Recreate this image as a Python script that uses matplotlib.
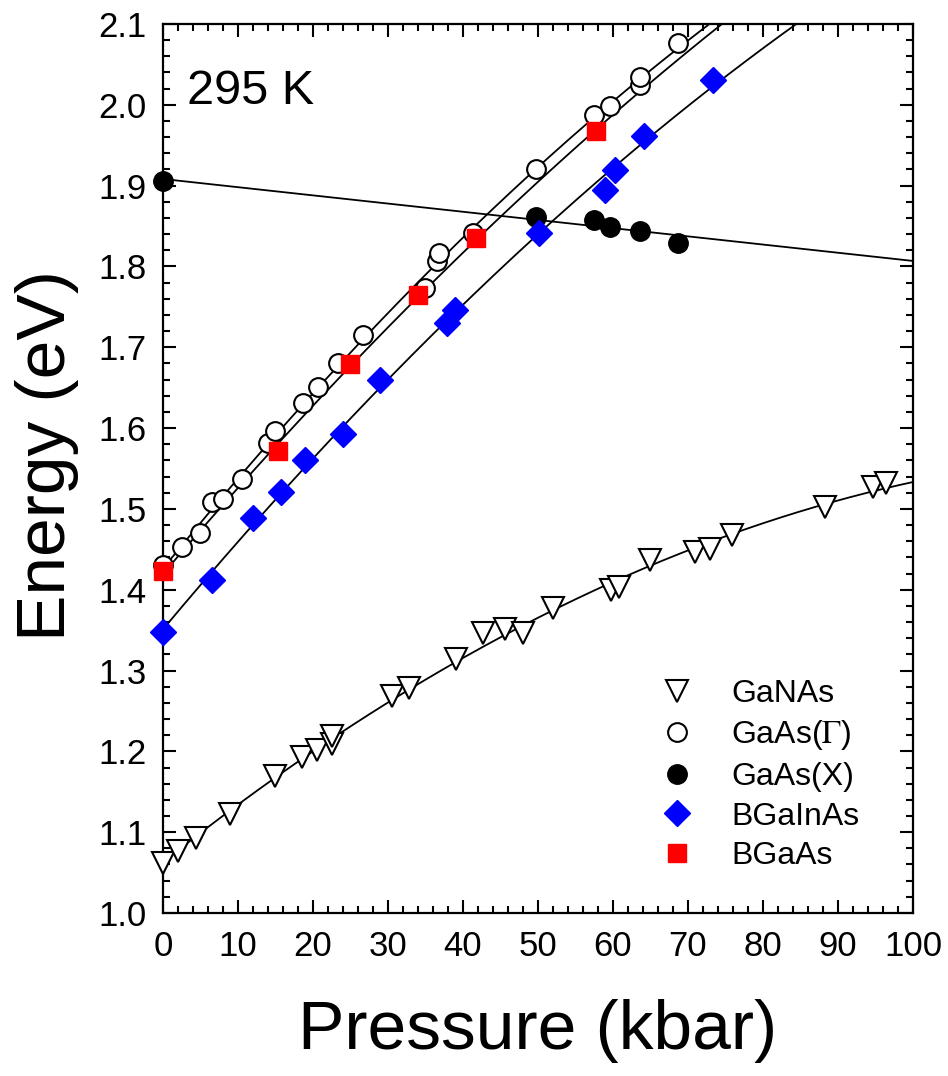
import matplotlib
matplotlib.use("Agg")
import matplotlib.pyplot as plt
import numpy as np

plt.rcParams['font.family'] = ['Liberation Sans', 'DejaVu Sans']
plt.rcParams['mathtext.fontset'] = 'stix'

# GaNAs (open down triangles)
ganas_p = [0.0, 2.0, 4.4, 8.9, 14.9, 18.5, 20.5, 22.5, 22.6, 30.6, 32.8, 39.1,
           42.7, 45.6, 48.0, 52.0, 59.8, 60.8, 64.9, 70.9, 72.9, 75.9, 88.3, 94.7, 96.4]
ganas_e = [1.062, 1.077, 1.093, 1.122, 1.169, 1.193, 1.202, 1.209, 1.219, 1.268, 1.278, 1.314,
           1.346, 1.352, 1.347, 1.377, 1.400, 1.403, 1.437, 1.447, 1.450, 1.468, 1.502, 1.527, 1.532]

# GaAs Gamma (open circles)
gamma_p = [0.0, 2.5, 4.9, 6.5, 8.0, 10.5, 14.0, 14.9, 18.7, 20.7, 23.4, 26.7,
           34.9, 36.6, 36.8, 41.4, 49.7, 57.5, 59.6, 63.6, 63.6, 68.7]
gamma_e = [1.430, 1.453, 1.470, 1.508, 1.512, 1.537, 1.582, 1.597, 1.631, 1.651, 1.681, 1.715,
           1.773, 1.807, 1.817, 1.842, 1.921, 1.987, 1.998, 2.024, 2.034, 2.077]

# GaAs X (filled circles)
x_p = [0.0, 49.7, 57.5, 59.6, 63.6, 68.7]
x_e = [1.906, 1.861, 1.857, 1.849, 1.844, 1.829]

# BGaInAs (blue diamonds)
bgainas_p = [0.0, 6.5, 12.0, 15.7, 18.9, 24.0, 29.0, 37.9, 38.9, 50.1, 58.9, 60.3, 64.1, 73.3]
bgainas_e = [1.348, 1.412, 1.489, 1.521, 1.561, 1.593, 1.660, 1.730, 1.746, 1.841, 1.895,
             1.919, 1.961, 2.031]

# BGaAs (red squares)
bgaas_p = [0.0, 15.4, 24.9, 34.0, 41.8, 57.8]
bgaas_e = [1.423, 1.572, 1.679, 1.765, 1.835, 1.968]

fig = plt.figure(figsize=(9.48, 10.76), dpi=100)
ax = fig.add_axes([0.1719, 0.1515, 0.7912, 0.8262])

pp = np.linspace(0, 100, 400)
lw = 1.3
fits = [(ganas_p, ganas_e, 2), (gamma_p, gamma_e, 2), (x_p, x_e, 1),
        (bgainas_p, bgainas_e, 2), (bgaas_p, bgaas_e, 2)]
for p, e, deg in fits:
    c = np.polyfit(p, e, deg)
    ax.plot(pp, np.polyval(c, pp), color='black', lw=lw, zorder=2)

ax.plot(ganas_p, ganas_e, 'v', ms=16, mfc='white', mec='black', mew=1.5,
        ls='none', label='GaNAs', zorder=3, clip_on=False)
ax.plot(gamma_p, gamma_e, 'o', ms=13.5, mfc='white', mec='black', mew=1.5,
        ls='none', label=r'GaAs($\Gamma$)', zorder=3, clip_on=False)
ax.plot(x_p, x_e, 'o', ms=14, mfc='black', mec='black',
        ls='none', label='GaAs(X)', zorder=3, clip_on=False)
ax.plot(bgainas_p, bgainas_e, 'D', ms=13, mfc='blue', mec='blue',
        ls='none', label='BGaInAs', zorder=4, clip_on=False)
ax.plot(bgaas_p, bgaas_e, 's', ms=13, mfc='red', mec='red',
        ls='none', label='BGaAs', zorder=4, clip_on=False)

ax.set_xlim(0, 100)
ax.set_ylim(1.0, 2.1)
ax.set_xticks(np.arange(0, 101, 10))
ax.set_xticks(np.arange(0, 101, 2), minor=True)
ax.set_yticks(np.arange(1.0, 2.101, 0.1))
ax.set_yticks(np.arange(1.0, 2.101, 0.02), minor=True)
ax.set_yticklabels(['%.1f' % v for v in np.arange(1.0, 2.101, 0.1)])

for s in ax.spines.values():
    s.set_linewidth(1.6)
ax.tick_params(which='both', direction='in', top=True, right=True, width=1.5)
ax.tick_params(which='major', length=9.5, labelsize=25, pad=12)
ax.tick_params(which='minor', length=5)

ax.set_xlabel('Pressure (kbar)', fontsize=50, labelpad=26)
ax.set_ylabel('Energy (eV)', fontsize=50)
ax.yaxis.set_label_coords(-0.112, 0.515)

ax.text(0.032, 0.91, '295 K', transform=ax.transAxes, fontsize=35,
        ha='left', va='baseline')

ax.legend(loc='lower left', bbox_to_anchor=(0.664, 0.047), frameon=False,
          fontsize=23, numpoints=1, handlelength=1.0, handletextpad=1.2,
          labelspacing=0.3, borderpad=0, borderaxespad=0)

fig.savefig('out.png', dpi=100)
